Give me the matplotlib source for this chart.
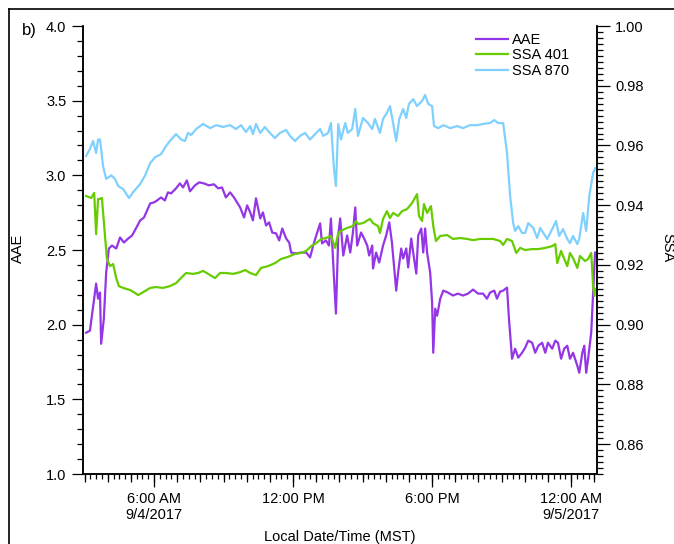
import numpy as np
import matplotlib
matplotlib.use('Agg')
import matplotlib.pyplot as plt
import matplotlib.dates as mdates
from matplotlib.ticker import MultipleLocator, FormatStrFormatter
from matplotlib.lines import Line2D

plt.rcParams['font.family'] = ['Liberation Sans', 'DejaVu Sans']

# ---------------- data (time in minutes after 00:00 on 9/4/2017) ----------------
t_870 = [184, 194, 202, 210, 215, 220, 228, 236, 249, 259,
         267, 280, 295, 306, 324, 337, 350, 363, 378, 391,
         401, 417, 430, 440, 448, 456, 469, 487, 505, 521,
         539, 557, 572, 585, 598, 609, 616, 624, 635, 647,
         660, 673, 686, 702, 712, 725, 738, 751, 764, 777,
         790, 798, 811, 818, 826, 831, 837, 844, 855, 862,
         873, 881, 888, 901, 914, 925, 932, 945, 953, 963,
         971, 979, 987, 995, 1005, 1013, 1020, 1031, 1041, 1054,
         1062, 1070, 1080, 1085, 1096, 1109, 1127, 1145, 1160, 1178,
         1197, 1212, 1230, 1241, 1251, 1264, 1274, 1282, 1290, 1295,
         1303, 1313, 1321, 1329, 1342, 1352, 1360, 1370, 1378, 1391,
         1401, 1409, 1419, 1430, 1437, 1445, 1456, 1461, 1471, 1479,
         1487, 1497, 1502]
ssa_870 = [0.9565, 0.9588, 0.9615, 0.9575, 0.9620, 0.9620, 0.9530, 0.9488, 0.9500, 0.9488,
           0.9464, 0.9454, 0.9424, 0.9444, 0.9471, 0.9500, 0.9541, 0.9561, 0.9571, 0.9598,
           0.9615, 0.9638, 0.9620, 0.9615, 0.9642, 0.9635, 0.9655, 0.9672, 0.9658, 0.9668,
           0.9662, 0.9668, 0.9655, 0.9668, 0.9645, 0.9665, 0.9638, 0.9672, 0.9642, 0.9662,
           0.9642, 0.9625, 0.9642, 0.9652, 0.9632, 0.9615, 0.9632, 0.9642, 0.9620, 0.9638,
           0.9655, 0.9632, 0.9642, 0.9675, 0.9521, 0.9464, 0.9672, 0.9620, 0.9675, 0.9642,
           0.9655, 0.9722, 0.9632, 0.9692, 0.9675, 0.9655, 0.9689, 0.9642, 0.9689, 0.9709,
           0.9732, 0.9675, 0.9615, 0.9689, 0.9722, 0.9692, 0.9739, 0.9755, 0.9732, 0.9749,
           0.9769, 0.9739, 0.9732, 0.9665, 0.9658, 0.9668, 0.9658, 0.9665, 0.9658, 0.9668,
           0.9668, 0.9672, 0.9675, 0.9685, 0.9675, 0.9675, 0.9575, 0.9431, 0.9340, 0.9314,
           0.9330, 0.9307, 0.9307, 0.9340, 0.9324, 0.9290, 0.9324, 0.9303, 0.9287, 0.9320,
           0.9347, 0.9297, 0.9320, 0.9287, 0.9273, 0.9297, 0.9270, 0.9287, 0.9374, 0.9314,
           0.9431, 0.9508, 0.9524]

t_401 = [184, 197, 205, 210, 215, 220, 225, 233, 238, 246,
         254, 262, 269, 280, 298, 311, 319, 332, 350, 365,
         383, 401, 417, 435, 443, 461, 474, 487, 500, 518,
         531, 546, 565, 583, 596, 609, 624, 637, 655, 673,
         689, 707, 725, 741, 754, 767, 780, 793, 805, 818,
         829, 837, 844, 860, 875, 883, 888, 901, 919, 927,
         940, 945, 953, 963, 971, 979, 992, 1002, 1015, 1028,
         1041, 1046, 1054, 1059, 1067, 1077, 1083, 1090, 1101, 1119,
         1134, 1153, 1171, 1186, 1204, 1222, 1238, 1256, 1264, 1274,
         1287, 1298, 1308, 1321, 1339, 1355, 1373, 1391, 1399, 1404,
         1414, 1419, 1430, 1437, 1445, 1456, 1463, 1476, 1484, 1492,
         1497, 1500, 1502]
ssa_401 = [0.9431, 0.9424, 0.9441, 0.9303, 0.9421, 0.9421, 0.9424, 0.9297, 0.9220, 0.9196,
           0.9203, 0.9156, 0.9129, 0.9123, 0.9116, 0.9106, 0.9099, 0.9109, 0.9123, 0.9126,
           0.9123, 0.9129, 0.9139, 0.9163, 0.9173, 0.9170, 0.9173, 0.9180, 0.9170, 0.9156,
           0.9173, 0.9173, 0.9170, 0.9176, 0.9183, 0.9173, 0.9166, 0.9190, 0.9196, 0.9206,
           0.9220, 0.9227, 0.9237, 0.9240, 0.9247, 0.9263, 0.9273, 0.9287, 0.9290, 0.9297,
           0.9257, 0.9307, 0.9314, 0.9324, 0.9330, 0.9347, 0.9337, 0.9340, 0.9354, 0.9340,
           0.9330, 0.9307, 0.9354, 0.9380, 0.9357, 0.9374, 0.9364, 0.9380, 0.9387, 0.9407,
           0.9437, 0.9364, 0.9347, 0.9404, 0.9374, 0.9397, 0.9330, 0.9280, 0.9297, 0.9300,
           0.9287, 0.9290, 0.9287, 0.9283, 0.9287, 0.9287, 0.9287, 0.9280, 0.9267, 0.9287,
           0.9280, 0.9240, 0.9257, 0.9250, 0.9253, 0.9253, 0.9257, 0.9263, 0.9270, 0.9206,
           0.9247, 0.9230, 0.9196, 0.9240, 0.9223, 0.9190, 0.9230, 0.9213, 0.9220, 0.9240,
           0.9129, 0.9096, 0.9120]

t_aae = [184, 194, 199, 210, 215, 220, 223, 230, 236, 243,
         251, 262, 272, 282, 293, 303, 313, 324, 334, 342,
         350, 360, 368, 378, 388, 396, 404, 417, 427, 435,
         445, 453, 466, 477, 489, 502, 515, 526, 536, 546,
         557, 567, 575, 583, 593, 601, 609, 616, 624, 635,
         642, 650, 658, 666, 676, 684, 692, 702, 710, 715,
         728, 741, 754, 764, 772, 780, 790, 795, 805, 813,
         818, 826, 831, 837, 842, 850, 860, 868, 875, 881,
         886, 896, 904, 912, 917, 925, 927, 935, 943, 953,
         961, 969, 976, 982, 987, 992, 1000, 1005, 1013, 1018,
         1026, 1031, 1039, 1044, 1052, 1057, 1062, 1067, 1075, 1080,
         1083, 1088, 1093, 1101, 1109, 1121, 1134, 1147, 1160, 1173,
         1186, 1199, 1212, 1222, 1230, 1241, 1248, 1256, 1264, 1274,
         1279, 1287, 1295, 1303, 1313, 1321, 1329, 1339, 1347, 1355,
         1365, 1373, 1380, 1391, 1399, 1406, 1414, 1422, 1430, 1437,
         1445, 1456, 1461, 1469, 1474, 1479, 1484, 1492, 1497, 1502]
aae = [1.946, 1.960, 2.060, 2.275, 2.174, 2.215, 1.872, 2.040, 2.349, 2.510,
       2.530, 2.510, 2.584, 2.550, 2.577, 2.597, 2.644, 2.698, 2.718, 2.765,
       2.812, 2.819, 2.832, 2.852, 2.832, 2.886, 2.879, 2.913, 2.946, 2.919,
       2.966, 2.893, 2.933, 2.953, 2.946, 2.933, 2.940, 2.913, 2.919, 2.852,
       2.886, 2.852, 2.819, 2.785, 2.718, 2.799, 2.752, 2.698, 2.846, 2.711,
       2.752, 2.664, 2.685, 2.617, 2.611, 2.564, 2.644, 2.577, 2.550, 2.483,
       2.477, 2.483, 2.483, 2.450, 2.530, 2.597, 2.678, 2.544, 2.564, 2.530,
       2.711, 2.309, 2.074, 2.597, 2.711, 2.463, 2.597, 2.483, 2.617, 2.785,
       2.530, 2.617, 2.577, 2.530, 2.463, 2.530, 2.376, 2.483, 2.416, 2.530,
       2.597, 2.685, 2.550, 2.376, 2.228, 2.349, 2.510, 2.443, 2.510, 2.383,
       2.577, 2.483, 2.342, 2.597, 2.644, 2.483, 2.644, 2.483, 2.349, 2.148,
       1.812, 2.107, 2.060, 2.174, 2.228, 2.215, 2.195, 2.208, 2.195, 2.208,
       2.235, 2.208, 2.208, 2.174, 2.215, 2.228, 2.174, 2.221, 2.228, 2.248,
       2.040, 1.772, 1.839, 1.779, 1.812, 1.846, 1.893, 1.879, 1.812, 1.859,
       1.879, 1.812, 1.879, 1.839, 1.893, 1.879, 1.772, 1.839, 1.859, 1.772,
       1.812, 1.725, 1.678, 1.812, 1.859, 1.678, 1.772, 1.946, 2.215, 2.483]

x_range = [176, 1507]
major_ticks = [360, 720, 1080, 1440]
major_labels = ['6:00 AM\n9/4/2017', '12:00 PM', '6:00 PM', '12:00 AM\n9/5/2017']
series_labels = ['AAE', 'SSA 401', 'SSA 870']
colors = ['#9436E6', '#66CC00', '#80D0FF']

base = np.datetime64('2017-09-04T00:00')


def to_dt(mins):
    return base + np.array(mins, dtype='int64').astype('timedelta64[m]')


def to_num(mins):
    return mdates.date2num(to_dt(mins))


W, H = 674, 544
fig = plt.figure(figsize=(W / 100, H / 100), dpi=100)
L, R, T, B = 83, 597, 26, 474
ax = fig.add_axes([L / W, 1 - B / H, (R - L) / W, (B - T) / H])
ax2 = ax.twinx()

l1, = ax.plot(to_dt(t_aae), aae, color=colors[0], lw=1.6, label=series_labels[0])
l2, = ax2.plot(to_dt(t_401), ssa_401, color=colors[1], lw=1.6, label=series_labels[1])
l3, = ax2.plot(to_dt(t_870), ssa_870, color=colors[2], lw=1.6, label=series_labels[2])

ax.set_xlim(to_num(x_range)[0], to_num(x_range)[1])
ax.set_ylim(1.0, 4.0)
ax2.set_ylim(0.85, 1.00)

fs = 10.5
# left axis
ax.yaxis.set_major_locator(MultipleLocator(0.5))
ax.yaxis.set_minor_locator(MultipleLocator(0.1))
ax.yaxis.set_major_formatter(FormatStrFormatter('%.1f'))
ax.tick_params(axis='y', which='major', length=8, width=0.9, pad=4, labelsize=fs)
ax.tick_params(axis='y', which='minor', length=4, width=0.9)
# right axis
ax2.yaxis.set_major_locator(MultipleLocator(0.02))
ax2.yaxis.set_minor_locator(MultipleLocator(0.002))
ax2.yaxis.set_major_formatter(FormatStrFormatter('%.2f'))
ax2.tick_params(axis='y', which='major', length=9, width=0.9, pad=4, labelsize=fs)
ax2.tick_params(axis='y', which='minor', length=4, width=0.9)
# bottom axis
ax.set_xticks(to_num(major_ticks))
ax.set_xticklabels(major_labels)
ax.set_xticks(to_num(np.arange(180, 1507, 15)), minor=True)
ax.tick_params(axis='x', which='major', length=9, width=0.9, pad=4, labelsize=fs)
ax.tick_params(axis='x', which='minor', length=3.5, width=0.9)
sec = ax.secondary_xaxis('bottom')
sec.set_xticks(to_num(np.arange(180, 1507, 60)))
sec.tick_params(axis='x', length=6, width=0.9, labelbottom=False)
sec.spines['bottom'].set_visible(False)

for a in (ax, ax2):
    a.spines['top'].set_visible(False)
    for s in ('left', 'right', 'bottom'):
        a.spines[s].set_linewidth(1.1)

fig.text(18 / W, 1 - 248 / H, 'AAE', rotation=90, ha='center', va='center', fontsize=fs)
fig.text(667 / W, 1 - 248 / H, 'SSA', rotation=270, ha='center', va='center', fontsize=fs)
fig.text(340 / W, 1 - 537 / H, 'Local Date/Time (MST)', ha='center', va='center', fontsize=fs)
fig.text(22 / W, 1 - 30 / H, 'b)', ha='left', va='center', fontsize=12)

fig.legend([l1, l2, l3], series_labels, loc='upper left',
           bbox_to_anchor=(476 / W, 1 - 33 / H), frameon=False, fontsize=fs,
           handlelength=2.2, handletextpad=0.3, labelspacing=0.1,
           borderpad=0, borderaxespad=0)

fig.add_artist(Line2D([9 / W, 9 / W], [0, 1 - 9 / H], transform=fig.transFigure, color='k', lw=1.2))
fig.add_artist(Line2D([9 / W, 1], [1 - 9 / H, 1 - 9 / H], transform=fig.transFigure, color='k', lw=1.2))

fig.savefig('out.png', dpi=100)
